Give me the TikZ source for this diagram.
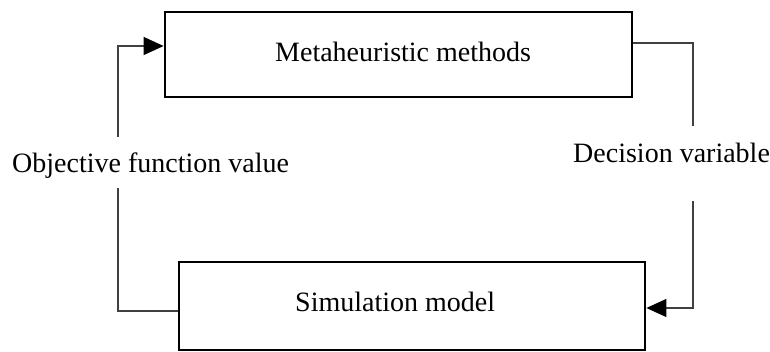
\documentclass[tikz,border=0pt]{standalone}
\usepackage{fontspec}
\setmainfont{Liberation Serif}
\usetikzlibrary{arrows.meta}
\begin{document}
\begin{tikzpicture}[x=1pt,y=1pt,
  boxstyle/.style={draw=black,line width=2.8pt,inner sep=0pt},
  lbl/.style={font=\fontsize{28}{30}\selectfont,inner sep=0pt,anchor=base west},
  conn/.style={draw=black!75,line width=1.3pt},
  arr/.style={conn,arrows={-Triangle[length=20pt 0,width=18pt 0,black]}}]
\useasboundingbox (0,0) rectangle (770,352);
% boxes
\node[boxstyle,minimum width=467pt,minimum height=85pt] (meta) at (398.5,297.5) {};
\node[boxstyle,minimum width=466pt,minimum height=88pt] (sim) at (412,46) {};
% texts
\node[lbl] (metat) at (275,290) {Metaheuristic methods};
\node[lbl] (simt) at (295,40) {Simulation model};
\node[lbl] (obj) at (12,179) {Objective function value};
\node[lbl] (dec) at (573,189) {Decision variable};
% connector coordinates
\coordinate (r1) at (693,226);
\coordinate (r2) at (693,151);
\coordinate (l1) at (118,164);
\coordinate (l2) at (118,215);
% right loop
\draw[conn] ([yshift=11.5pt]meta.east) -| (r1);
\draw[arr] (r2) |- ([yshift=-2pt]sim.east);
% left loop
\draw[conn] ([yshift=-5pt]sim.west) -| (l1);
\draw[arr] (l2) |- ([yshift=8.5pt]meta.west);
\end{tikzpicture}
\end{document}
